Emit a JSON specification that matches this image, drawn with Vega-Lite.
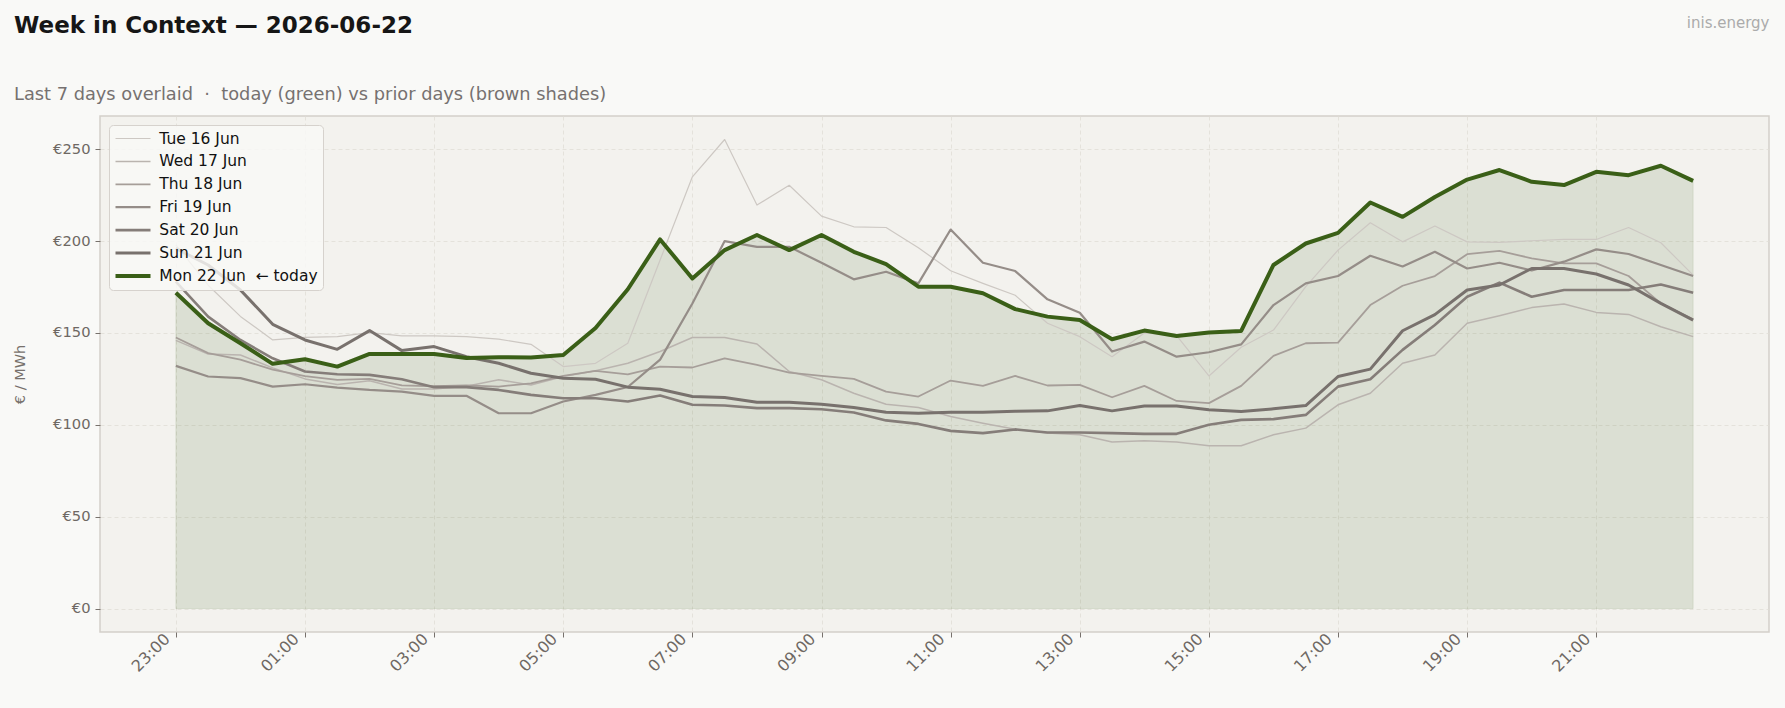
{
  "$schema": "https://vega.github.io/schema/vega-lite/v6.json",
  "width": 1669,
  "height": 516,
  "autosize": {"type": "none"},
  "padding": {"left": 100, "top": 116, "right": 16, "bottom": 76},
  "background": "#f9f9f7",
  "title": {
    "text": "Week in Context — 2026-06-22",
    "subtitle": "Last 7 days overlaid\u00a0 ·\u00a0 today (green) vs prior days (brown shades)",
    "anchor": "start",
    "frame": "group",
    "dx": -86,
    "dy": 103.2,
    "offset": 14,
    "font": "DejaVu Sans",
    "fontSize": 23,
    "fontWeight": "bold",
    "color": "#161616",
    "subtitleFont": "DejaVu Sans",
    "subtitleFontSize": 17.8,
    "subtitleColor": "#767170",
    "subtitlePadding": 48.2
  },
  "data": {
    "values": [
      {"t": "2026-06-21T23:00", "Tue 16 Jun": 198, "Wed 17 Jun": 146, "Thu 18 Jun": 147.5, "Fri 19 Jun": 132.1, "Sat 20 Jun": 178, "Sun 21 Jun": 196, "Mon 22 Jun": 171.9},
      {"t": "2026-06-21T23:30", "Tue 16 Jun": 176, "Wed 17 Jun": 138.5, "Thu 18 Jun": 139, "Fri 19 Jun": 126.3, "Sat 20 Jun": 158.9, "Sun 21 Jun": 187, "Mon 22 Jun": 155.3},
      {"t": "2026-06-22T00:00", "Tue 16 Jun": 159, "Wed 17 Jun": 138, "Thu 18 Jun": 135.5, "Fri 19 Jun": 125.4, "Sat 20 Jun": 146.2, "Sun 21 Jun": 173.4, "Mon 22 Jun": 144.4},
      {"t": "2026-06-22T00:30", "Tue 16 Jun": 146.2, "Wed 17 Jun": 131, "Thu 18 Jun": 130, "Fri 19 Jun": 120.8, "Sat 20 Jun": 136.2, "Sun 21 Jun": 154.7, "Mon 22 Jun": 133.2},
      {"t": "2026-06-22T01:00", "Tue 16 Jun": 147.6, "Wed 17 Jun": 125, "Thu 18 Jun": 126.5, "Fri 19 Jun": 122.1, "Sat 20 Jun": 129, "Sun 21 Jun": 146.2, "Mon 22 Jun": 135.7},
      {"t": "2026-06-22T01:30", "Tue 16 Jun": 148, "Wed 17 Jun": 122, "Thu 18 Jun": 124.5, "Fri 19 Jun": 120.3, "Sat 20 Jun": 127.5, "Sun 21 Jun": 141.1, "Mon 22 Jun": 131.7},
      {"t": "2026-06-22T02:00", "Tue 16 Jun": 150.2, "Wed 17 Jun": 124, "Thu 18 Jun": 125, "Fri 19 Jun": 119, "Sat 20 Jun": 127.2, "Sun 21 Jun": 151.3, "Mon 22 Jun": 138.6},
      {"t": "2026-06-22T02:30", "Tue 16 Jun": 148.4, "Wed 17 Jun": 119.5, "Thu 18 Jun": 121.5, "Fri 19 Jun": 118.1, "Sat 20 Jun": 124.8, "Sun 21 Jun": 140.4, "Mon 22 Jun": 138.6},
      {"t": "2026-06-22T03:00", "Tue 16 Jun": 148.4, "Wed 17 Jun": 119.5, "Thu 18 Jun": 121, "Fri 19 Jun": 115.8, "Sat 20 Jun": 120.5, "Sun 21 Jun": 142.6, "Mon 22 Jun": 138.6},
      {"t": "2026-06-22T03:30", "Tue 16 Jun": 148, "Wed 17 Jun": 121, "Thu 18 Jun": 121.5, "Fri 19 Jun": 115.8, "Sat 20 Jun": 120.5, "Sun 21 Jun": 137.1, "Mon 22 Jun": 136.4},
      {"t": "2026-06-22T04:00", "Tue 16 Jun": 146.6, "Wed 17 Jun": 124.5, "Thu 18 Jun": 120.8, "Fri 19 Jun": 106.3, "Sat 20 Jun": 119, "Sun 21 Jun": 133.5, "Mon 22 Jun": 136.8},
      {"t": "2026-06-22T04:30", "Tue 16 Jun": 143.8, "Wed 17 Jun": 121.7, "Thu 18 Jun": 122.6, "Fri 19 Jun": 106.3, "Sat 20 Jun": 116.3, "Sun 21 Jun": 128.1, "Mon 22 Jun": 136.6},
      {"t": "2026-06-22T05:00", "Tue 16 Jun": 131.7, "Wed 17 Jun": 126.3, "Thu 18 Jun": 126.6, "Fri 19 Jun": 112.7, "Sat 20 Jun": 114.5, "Sun 21 Jun": 125.4, "Mon 22 Jun": 138},
      {"t": "2026-06-22T05:30", "Tue 16 Jun": 133.5, "Wed 17 Jun": 129.4, "Thu 18 Jun": 129.4, "Fri 19 Jun": 116.3, "Sat 20 Jun": 114.5, "Sun 21 Jun": 124.8, "Mon 22 Jun": 152.7},
      {"t": "2026-06-22T06:00", "Tue 16 Jun": 144.4, "Wed 17 Jun": 133.5, "Thu 18 Jun": 127.5, "Fri 19 Jun": 120.6, "Sat 20 Jun": 112.7, "Sun 21 Jun": 120.5, "Mon 22 Jun": 173.8},
      {"t": "2026-06-22T06:30", "Tue 16 Jun": 189.7, "Wed 17 Jun": 139.9, "Thu 18 Jun": 131.7, "Fri 19 Jun": 135.5, "Sat 20 Jun": 116, "Sun 21 Jun": 119.4, "Mon 22 Jun": 200.9},
      {"t": "2026-06-22T07:00", "Tue 16 Jun": 235, "Wed 17 Jun": 147.5, "Thu 18 Jun": 131.2, "Fri 19 Jun": 166, "Sat 20 Jun": 110.9, "Sun 21 Jun": 115.4, "Mon 22 Jun": 179.7},
      {"t": "2026-06-22T07:30", "Tue 16 Jun": 255.3, "Wed 17 Jun": 147.5, "Thu 18 Jun": 136.2, "Fri 19 Jun": 200, "Sat 20 Jun": 110.5, "Sun 21 Jun": 114.9, "Mon 22 Jun": 195.1},
      {"t": "2026-06-22T08:00", "Tue 16 Jun": 219.6, "Wed 17 Jun": 144, "Thu 18 Jun": 132.6, "Fri 19 Jun": 196.9, "Sat 20 Jun": 109.1, "Sun 21 Jun": 112.3, "Mon 22 Jun": 203.3},
      {"t": "2026-06-22T08:30", "Tue 16 Jun": 230.4, "Wed 17 Jun": 129, "Thu 18 Jun": 128.4, "Fri 19 Jun": 196.9, "Sat 20 Jun": 109.1, "Sun 21 Jun": 112.3, "Mon 22 Jun": 195.1},
      {"t": "2026-06-22T09:00", "Tue 16 Jun": 213.6, "Wed 17 Jun": 124.5, "Thu 18 Jun": 126.6, "Fri 19 Jun": 188.2, "Sat 20 Jun": 108.5, "Sun 21 Jun": 111.2, "Mon 22 Jun": 203.3},
      {"t": "2026-06-22T09:30", "Tue 16 Jun": 207.8, "Wed 17 Jun": 117.2, "Thu 18 Jun": 125, "Fri 19 Jun": 179.2, "Sat 20 Jun": 106.7, "Sun 21 Jun": 109.4, "Mon 22 Jun": 194.2},
      {"t": "2026-06-22T10:00", "Tue 16 Jun": 207.4, "Wed 17 Jun": 111.2, "Thu 18 Jun": 118.1, "Fri 19 Jun": 183.3, "Sat 20 Jun": 102.4, "Sun 21 Jun": 106.9, "Mon 22 Jun": 187.5},
      {"t": "2026-06-22T10:30", "Tue 16 Jun": 196.4, "Wed 17 Jun": 109.4, "Thu 18 Jun": 115.4, "Fri 19 Jun": 177, "Sat 20 Jun": 100.5, "Sun 21 Jun": 106.3, "Mon 22 Jun": 175.2},
      {"t": "2026-06-22T11:00", "Tue 16 Jun": 183.9, "Wed 17 Jun": 104.5, "Thu 18 Jun": 124.1, "Fri 19 Jun": 206.3, "Sat 20 Jun": 96.7, "Sun 21 Jun": 106.9, "Mon 22 Jun": 175.2},
      {"t": "2026-06-22T11:30", "Tue 16 Jun": 177, "Wed 17 Jun": 100.9, "Thu 18 Jun": 121.2, "Fri 19 Jun": 188.2, "Sat 20 Jun": 95.5, "Sun 21 Jun": 106.9, "Mon 22 Jun": 171.6},
      {"t": "2026-06-22T12:00", "Tue 16 Jun": 170.5, "Wed 17 Jun": 97.6, "Thu 18 Jun": 126.6, "Fri 19 Jun": 183.7, "Sat 20 Jun": 97.5, "Sun 21 Jun": 107.4, "Mon 22 Jun": 163},
      {"t": "2026-06-22T12:30", "Tue 16 Jun": 155.3, "Wed 17 Jun": 95.5, "Thu 18 Jun": 121.4, "Fri 19 Jun": 168.3, "Sat 20 Jun": 95.8, "Sun 21 Jun": 107.6, "Mon 22 Jun": 158.9},
      {"t": "2026-06-22T13:00", "Tue 16 Jun": 148, "Wed 17 Jun": 94.6, "Thu 18 Jun": 121.7, "Fri 19 Jun": 161, "Sat 20 Jun": 95.8, "Sun 21 Jun": 110.5, "Mon 22 Jun": 157.1},
      {"t": "2026-06-22T13:30", "Tue 16 Jun": 137.1, "Wed 17 Jun": 90.6, "Thu 18 Jun": 115, "Fri 19 Jun": 139.9, "Sat 20 Jun": 95.5, "Sun 21 Jun": 107.6, "Mon 22 Jun": 146.6},
      {"t": "2026-06-22T14:00", "Tue 16 Jun": 150, "Wed 17 Jun": 91.3, "Thu 18 Jun": 121.2, "Fri 19 Jun": 145.3, "Sat 20 Jun": 95.1, "Sun 21 Jun": 110.3, "Mon 22 Jun": 151.3},
      {"t": "2026-06-22T14:30", "Tue 16 Jun": 148.5, "Wed 17 Jun": 90.6, "Thu 18 Jun": 113, "Fri 19 Jun": 137.1, "Sat 20 Jun": 95.1, "Sun 21 Jun": 110.3, "Mon 22 Jun": 148.4},
      {"t": "2026-06-22T15:00", "Tue 16 Jun": 126.6, "Wed 17 Jun": 88.6, "Thu 18 Jun": 111.8, "Fri 19 Jun": 139.5, "Sat 20 Jun": 100, "Sun 21 Jun": 108.2, "Mon 22 Jun": 150.2},
      {"t": "2026-06-22T15:30", "Tue 16 Jun": 142.2, "Wed 17 Jun": 88.6, "Thu 18 Jun": 121.2, "Fri 19 Jun": 143.8, "Sat 20 Jun": 102.7, "Sun 21 Jun": 107.2, "Mon 22 Jun": 151.1},
      {"t": "2026-06-22T16:00", "Tue 16 Jun": 151.6, "Wed 17 Jun": 94.6, "Thu 18 Jun": 137.5, "Fri 19 Jun": 165.2, "Sat 20 Jun": 103.1, "Sun 21 Jun": 108.7, "Mon 22 Jun": 187},
      {"t": "2026-06-22T16:30", "Tue 16 Jun": 175.2, "Wed 17 Jun": 98.2, "Thu 18 Jun": 144.4, "Fri 19 Jun": 177, "Sat 20 Jun": 105.4, "Sun 21 Jun": 110.5, "Mon 22 Jun": 198.7},
      {"t": "2026-06-22T17:00", "Tue 16 Jun": 195.1, "Wed 17 Jun": 110.9, "Thu 18 Jun": 144.7, "Fri 19 Jun": 181, "Sat 20 Jun": 120.8, "Sun 21 Jun": 126.3, "Mon 22 Jun": 204.5},
      {"t": "2026-06-22T17:30", "Tue 16 Jun": 210, "Wed 17 Jun": 117.2, "Thu 18 Jun": 165.2, "Fri 19 Jun": 192, "Sat 20 Jun": 124.8, "Sun 21 Jun": 130.3, "Mon 22 Jun": 221},
      {"t": "2026-06-22T18:00", "Tue 16 Jun": 199.6, "Wed 17 Jun": 133.5, "Thu 18 Jun": 175.7, "Fri 19 Jun": 186.2, "Sat 20 Jun": 140.8, "Sun 21 Jun": 151.2, "Mon 22 Jun": 213.2},
      {"t": "2026-06-22T18:30", "Tue 16 Jun": 208.2, "Wed 17 Jun": 138, "Thu 18 Jun": 181, "Fri 19 Jun": 194.2, "Sat 20 Jun": 154.3, "Sun 21 Jun": 160, "Mon 22 Jun": 224},
      {"t": "2026-06-22T19:00", "Tue 16 Jun": 199.6, "Wed 17 Jun": 155.3, "Thu 18 Jun": 192.9, "Fri 19 Jun": 185.1, "Sat 20 Jun": 169.7, "Sun 21 Jun": 173.4, "Mon 22 Jun": 233.5},
      {"t": "2026-06-22T19:30", "Tue 16 Jun": 199.3, "Wed 17 Jun": 159.4, "Thu 18 Jun": 194.7, "Fri 19 Jun": 188.2, "Sat 20 Jun": 177.4, "Sun 21 Jun": 176.1, "Mon 22 Jun": 238.7},
      {"t": "2026-06-22T20:00", "Tue 16 Jun": 200.2, "Wed 17 Jun": 163.8, "Thu 18 Jun": 190.6, "Fri 19 Jun": 184, "Sat 20 Jun": 169.7, "Sun 21 Jun": 185.1, "Mon 22 Jun": 232.3},
      {"t": "2026-06-22T20:30", "Tue 16 Jun": 200.9, "Wed 17 Jun": 165.8, "Thu 18 Jun": 187.9, "Fri 19 Jun": 188.8, "Sat 20 Jun": 173.4, "Sun 21 Jun": 185.1, "Mon 22 Jun": 230.5},
      {"t": "2026-06-22T21:00", "Tue 16 Jun": 200.9, "Wed 17 Jun": 161.2, "Thu 18 Jun": 187.9, "Fri 19 Jun": 195.5, "Sat 20 Jun": 173.4, "Sun 21 Jun": 182.1, "Mon 22 Jun": 237.7},
      {"t": "2026-06-22T21:30", "Tue 16 Jun": 207.4, "Wed 17 Jun": 160.1, "Thu 18 Jun": 181, "Fri 19 Jun": 193, "Sat 20 Jun": 173.4, "Sun 21 Jun": 176.1, "Mon 22 Jun": 235.9},
      {"t": "2026-06-22T22:00", "Tue 16 Jun": 199.1, "Wed 17 Jun": 153.4, "Thu 18 Jun": 166.1, "Fri 19 Jun": 187, "Sat 20 Jun": 176.4, "Sun 21 Jun": 166.1, "Mon 22 Jun": 241},
      {"t": "2026-06-22T22:30", "Tue 16 Jun": 181.5, "Wed 17 Jun": 148, "Thu 18 Jun": 157.5, "Fri 19 Jun": 181, "Sat 20 Jun": 171.9, "Sun 21 Jun": 157, "Mon 22 Jun": 232.8}
    ]
  },
  "transform": [
    {"fold": ["Tue 16 Jun", "Wed 17 Jun", "Thu 18 Jun", "Fri 19 Jun", "Sat 20 Jun", "Sun 21 Jun", "Mon 22 Jun"], "as": ["day", "price"]}
  ],
  "encoding": {
    "y": {
      "field": "price",
      "type": "quantitative",
      "scale": {"domain": [-12.77, 268.1], "nice": false, "zero": false},
      "axis": {
        "values": [0, 50, 100, 150, 200, 250],
        "labelExpr": "'€' + datum.value",
        "title": "€ / MWh",
        "titleFontSize": 14.5,
        "titleFontWeight": "normal",
        "titleColor": "#77716c",
        "titlePadding": 25,
        "labelFontSize": 14.7,
        "labelColor": "#6e6863",
        "labelPadding": 5,
        "tickSize": 5,
        "tickColor": "#77716c",
        "domain": false,
        "grid": true,
        "gridColor": "#e0ddd6",
        "gridDash": [4, 3],
        "gridWidth": 0.8
      }
    }
  },
  "layer": [
    {
      "transform": [{"filter": "datum.day === 'Mon 22 Jun'"}],
      "mark": {"type": "area", "color": "#3a5f17", "fillOpacity": 0.125, "stroke": "#3a5f17", "strokeOpacity": 0.1, "strokeWidth": 1},
      "encoding": {
        "x": {
          "field": "t",
          "type": "temporal",
          "scale": {
            "domain": [
              {"year": 2026, "month": 6, "date": 21, "hours": 21, "minutes": 49, "seconds": 30},
              {"year": 2026, "month": 6, "date": 22, "hours": 23, "minutes": 40, "seconds": 30}
            ],
            "nice": false
          },
          "axis": {
            "orient": "top",
            "title": "inis.energy",
            "labels": false,
            "ticks": false,
            "domain": false,
            "grid": false,
            "titleX": 1669,
            "titleY": -89,
            "titleAlign": "right",
            "titleBaseline": "alphabetic",
            "titleFontSize": 15,
            "titleFontWeight": "normal",
            "titleColor": "#ababab"
          }
        },
        "y2": {"datum": 0}
      }
    },
    {
      "mark": {"type": "line", "strokeJoin": "round", "strokeCap": "butt"},
      "encoding": {
        "x": {
          "field": "t",
          "type": "temporal",
          "scale": {
            "domain": [
              {"year": 2026, "month": 6, "date": 21, "hours": 21, "minutes": 49, "seconds": 30},
              {"year": 2026, "month": 6, "date": 22, "hours": 23, "minutes": 40, "seconds": 30}
            ],
            "nice": false
          },
          "axis": {
            "orient": "bottom",
            "values": [
              {"year": 2026, "month": 6, "date": 21, "hours": 23},
              {"year": 2026, "month": 6, "date": 22, "hours": 1},
              {"year": 2026, "month": 6, "date": 22, "hours": 3},
              {"year": 2026, "month": 6, "date": 22, "hours": 5},
              {"year": 2026, "month": 6, "date": 22, "hours": 7},
              {"year": 2026, "month": 6, "date": 22, "hours": 9},
              {"year": 2026, "month": 6, "date": 22, "hours": 11},
              {"year": 2026, "month": 6, "date": 22, "hours": 13},
              {"year": 2026, "month": 6, "date": 22, "hours": 15},
              {"year": 2026, "month": 6, "date": 22, "hours": 17},
              {"year": 2026, "month": 6, "date": 22, "hours": 19},
              {"year": 2026, "month": 6, "date": 22, "hours": 21}
            ],
            "format": "%H:%M",
            "title": null,
            "labelAngle": -45,
            "labelAlign": "right",
            "labelBaseline": "middle",
            "labelPadding": -1,
            "labelOffset": -9,
            "labelFontSize": 16,
            "labelColor": "#6e6863",
            "tickSize": 5,
            "tickColor": "#77716c",
            "domain": false,
            "grid": true,
            "gridColor": "#e0ddd6",
            "gridDash": [4, 3],
            "gridWidth": 0.8
          }
        },
        "color": {
          "field": "day",
          "type": "ordinal",
          "scale": {
            "type": "ordinal",
            "domain": ["Tue 16 Jun", "Wed 17 Jun", "Thu 18 Jun", "Fri 19 Jun", "Sat 20 Jun", "Sun 21 Jun", "Mon 22 Jun"],
            "range": ["#cdc8c3", "#bab4af", "#a69e99", "#958d88", "#857d79", "#78716d", "#3a5f17"]
          },
          "legend": {"title": null, "labelExpr": "datum.label === 'Mon 22 Jun' ? 'Mon 22 Jun\u00a0 ← today' : datum.label"}
        },
        "strokeWidth": {
          "field": "day",
          "type": "ordinal",
          "scale": {
            "type": "ordinal",
            "domain": ["Tue 16 Jun", "Wed 17 Jun", "Thu 18 Jun", "Fri 19 Jun", "Sat 20 Jun", "Sun 21 Jun", "Mon 22 Jun"],
            "range": [1.2, 1.5, 1.8, 2.2, 2.6, 3.0, 4.0]
          },
          "legend": {"title": null, "labelExpr": "datum.label === 'Mon 22 Jun' ? 'Mon 22 Jun\u00a0 ← today' : datum.label"}
        }
      }
    }
  ],
  "resolve": {"axis": {"x": "independent"}},
  "config": {
    "font": "DejaVu Sans",
    "view": {"fill": "#f3f2ee", "stroke": "#d4d0ca", "strokeWidth": 1.5},
    "legend": {
      "orient": "top-left",
      "offset": 9,
      "padding": 4.5,
      "fillColor": "rgba(249,249,247,0.82)",
      "strokeColor": "#d6d2cd",
      "cornerRadius": 4,
      "symbolType": "stroke",
      "symbolSize": 1225,
      "clipHeight": 18,
      "labelFont": "DejaVu Sans",
      "labelFontSize": 15.5,
      "labelColor": "#111111",
      "labelOffset": 6.8,
      "rowPadding": 4.9
    }
  }
}
